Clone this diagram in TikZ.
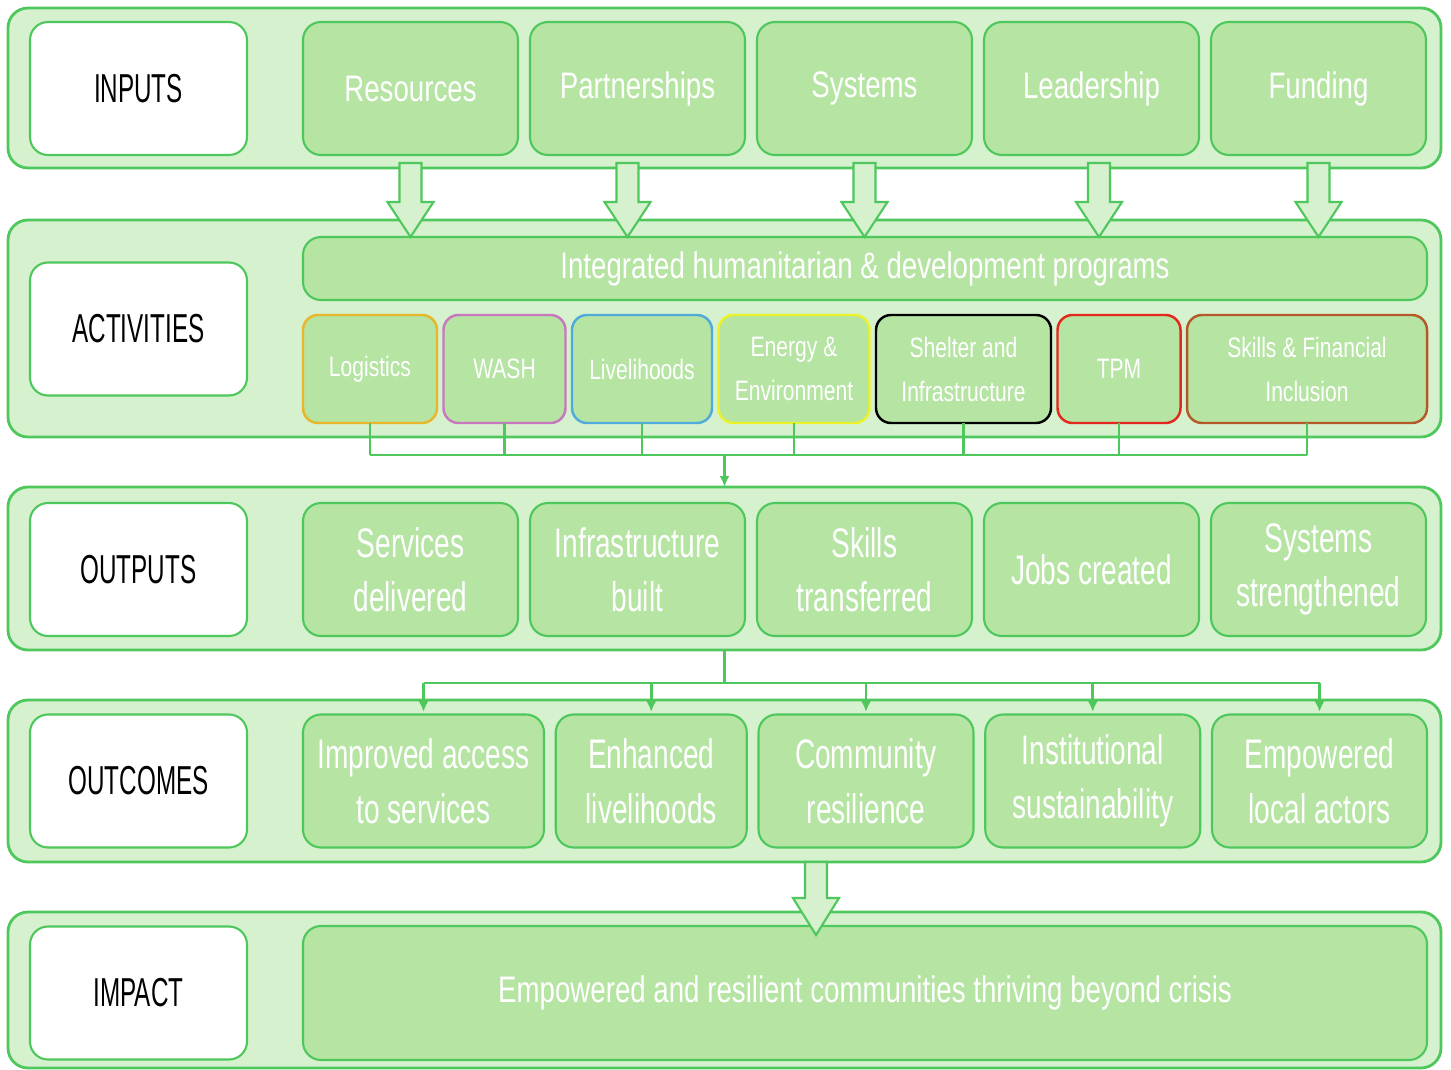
\documentclass[tikz,border=0pt]{standalone}
\usepackage{fontspec}
\setmainfont{Liberation Sans}[FakeStretch=0.75]
\newfontfamily\narrowfont{Liberation Sans}[FakeStretch=0.68]
\newfontfamily\tagfont{Liberation Sans}[FakeStretch=0.6]
\usetikzlibrary{arrows.meta,positioning,calc}
\definecolor{chainBand}{RGB}{214,241,206}
\definecolor{chainItem}{RGB}{181,228,163}
\definecolor{chainLine}{RGB}{78,200,92}
\definecolor{chainGold}{RGB}{232,182,40}
\definecolor{chainOrchid}{RGB}{200,120,190}
\definecolor{chainSky}{RGB}{80,170,220}
\definecolor{chainYellow}{RGB}{236,242,40}
\definecolor{chainRed}{RGB}{228,40,30}
\definecolor{chainSienna}{RGB}{180,90,40}

\begin{document}
\begin{tikzpicture}[
  band/.style={
    draw=chainLine,
    line width=1.6pt,
    fill=chainBand,
    rounded corners=0.4cm,
    minimum width=28.66cm,
    outer sep=0pt
  },
  tag/.style={
    draw=chainLine,
    line width=1.2pt,
    fill=white,
    rounded corners=0.36cm,
    minimum width=4.34cm,
    minimum height=2.66cm,
    outer sep=0pt,
    font=\tagfont\fontsize{23}{27}\selectfont
  },
  item/.style={
    draw=chainLine,
    line width=1.2pt,
    fill=chainItem,
    rounded corners=0.36cm,
    minimum width=4.3cm,
    minimum height=2.66cm,
    outer sep=0pt,
    align=center,
    text=white,
    font=\fontsize{21}{31}\selectfont
  },
  result/.style={
    item,
    font=\narrowfont\fontsize{23.5}{31}\selectfont
  },
  sub/.style={
    draw=#1,
    line width=1.4pt,
    fill=chainItem,
    rounded corners=0.3cm,
    minimum height=2.16cm,
    outer sep=0pt,
    align=center,
    text=white,
    font=\fontsize{16}{25}\selectfont
  },
  link/.style={chainLine,line width=1.5pt},
  linkarrow/.style={link,-{Latex[length=2.2mm,width=2mm]}},
  blockarrow/.style={draw=chainLine,line width=1.2pt,fill=chainBand,line join=miter}
]
  \useasboundingbox (0,0) rectangle (29.02,-21.4);

  % bands
  \node[band,minimum height=3.2cm] (inband) at (14.49,-1.76) {};
  \node[band,minimum height=4.34cm] (actband) at (14.49,-6.57) {};
  \node[band,minimum height=3.26cm] (outband) at (14.49,-11.37) {};
  \node[band,minimum height=3.24cm] (outcband) at (14.49,-15.62) {};
  \node[band,minimum height=3.12cm] (impband) at (14.49,-19.8) {};

  % row titles
  \node[tag] (intag) at (2.77,-1.77) {INPUTS};
  \node[tag] (acttag) at (2.77,-6.58) {ACTIVITIES};
  \node[tag] (outtag) at (2.77,-11.39) {OUTPUTS};
  \node[tag] (outctag) at (2.77,-15.62) {OUTCOMES};
  \node[tag] (imptag) at (2.77,-19.86) {IMPACT};

  % inputs
  \node[item,anchor=west] (res) at (6.06,-1.77) {Resources};
  \node[item,right=0.24cm of res] (part) {Partnerships};
  \node[item,right=0.24cm of part] (sys) {Systems};
  \node[item,right=0.24cm of sys] (lead) {Leadership};
  \node[item,right=0.24cm of lead] (fund) {Funding};

  % activities
  \node[item,anchor=west,minimum width=22.48cm,minimum height=1.26cm,font=\fontsize{21}{25}\selectfont] (prog) at (6.06,-5.37) {Integrated humanitarian \& development programs};
  \node[sub=chainGold,anchor=west,minimum width=2.68cm] (logi) at (6.06,-7.38) {Logistics};
  \node[sub=chainOrchid,minimum width=2.44cm,right=0.13cm of logi] (wash) {WASH};
  \node[sub=chainSky,minimum width=2.8cm,right=0.13cm of wash] (live) {Livelihoods};
  \node[sub=chainYellow,minimum width=3.02cm,right=0.13cm of live] (ener) {Energy \&\\Environment};
  \node[sub=black,minimum width=3.5cm,right=0.13cm of ener] (shel) {Shelter and\\Infrastructure};
  \node[sub=chainRed,minimum width=2.46cm,right=0.13cm of shel] (tpm) {TPM};
  \node[sub=chainSienna,minimum width=4.8cm,right=0.13cm of tpm] (skil) {Skills \& Financial\\Inclusion};

  % outputs
  \node[result,anchor=west] (serv) at (6.06,-11.39) {Services\\delivered};
  \node[result,right=0.24cm of serv] (infra) {Infrastructure\\built};
  \node[result,right=0.24cm of infra] (skl) {Skills\\transferred};
  \node[result,right=0.24cm of skl] (jobs) {Jobs created};
  \node[result,right=0.24cm of jobs] (strg) {Systems\\strengthened};

  % outcomes
  \node[result,anchor=west,minimum width=4.82cm] (acc) at (6.06,-15.62) {Improved access\\to services};
  \node[result,minimum width=3.82cm,right=0.235cm of acc] (liv) {Enhanced\\livelihoods};
  \node[result,right=0.235cm of liv] (comm) {Community\\resilience};
  \node[result,right=0.235cm of comm] (inst) {Institutional\\sustainability};
  \node[result,right=0.235cm of inst] (emp) {Empowered\\local actors};

  % impact
  \node[item,anchor=west,minimum width=22.48cm,minimum height=2.68cm] (goal) at (6.06,-19.86) {Empowered and resilient communities thriving beyond crisis};

  % activities to outputs
  \coordinate (actbus) at (0,-9.1);
  \foreach \s in {logi,wash,live,ener,shel,tpm,skil}
    \draw[link] (\s.south) -- (\s.south |- actbus);
  \draw[link] (logi.south |- actbus) -- (skil.south |- actbus);
  \draw[linkarrow] (actband.south |- actbus) -- (outband.north);

  % outputs to outcomes
  \coordinate (outbus) at (0,-13.66);
  \draw[link] (outband.south) -- (outband.south |- outbus);
  \draw[link] (acc.north |- outbus) -- (emp.north |- outbus);
  \foreach \o in {acc,liv,comm,inst,emp}
    \draw[linkarrow] (\o.north |- outbus) -- ($(\o.north)+(0,0.05)$);

  % inputs to activities
  \foreach \i/\dx in {res/0,part/-0.2,sys/0,lead/0.15,fund/0}
    \draw[blockarrow] let \p1=($(\i.south)+(\dx,-0.16)$), \p2=($(\i.south |- prog.north)+(\dx,0)$) in
      (\x1-0.22cm,\y1) -- (\x1+0.22cm,\y1) -- (\x1+0.22cm,\y2+0.7cm) -- (\x1+0.46cm,\y2+0.7cm)
      -- (\x1,\y2) -- (\x1-0.46cm,\y2+0.7cm) -- (\x1-0.22cm,\y2+0.7cm) -- cycle;

  % outcomes to impact
  \coordinate (drop) at ($(outcband.south)+(1.83,0)$);
  \coordinate (droptip) at ($(drop |- goal.north)+(0,-0.18)$);
  \draw[blockarrow] let \p1=(drop), \p2=(droptip) in
    (\x1-0.22cm,\y1) -- (\x1+0.22cm,\y1) -- (\x1+0.22cm,\y2+0.74cm) -- (\x1+0.46cm,\y2+0.74cm)
    -- (\x1,\y2) -- (\x1-0.46cm,\y2+0.74cm) -- (\x1-0.22cm,\y2+0.74cm) -- cycle;
\end{tikzpicture}
\end{document}
